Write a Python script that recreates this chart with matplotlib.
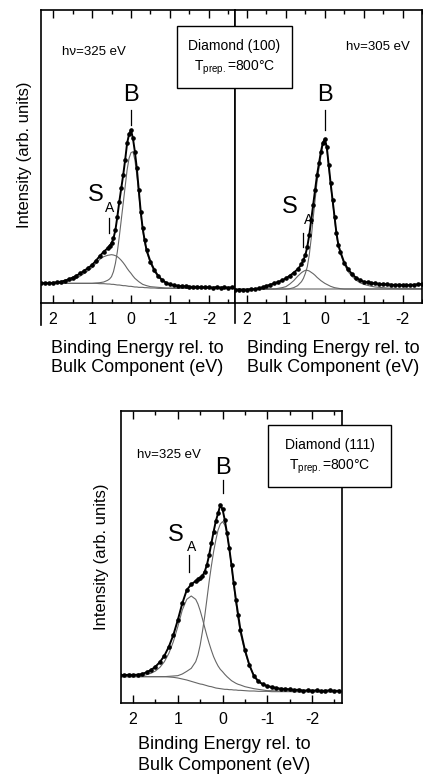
import matplotlib
matplotlib.use("Agg")
import matplotlib.pyplot as plt
from matplotlib.lines import Line2D
from matplotlib.patches import Rectangle
from matplotlib.ticker import MultipleLocator

plt.rcParams['font.family'] = ['Liberation Sans', 'DejaVu Sans']
plt.rcParams['mathtext.fontset'] = 'custom'
plt.rcParams['mathtext.rm'] = 'Liberation Sans'
plt.rcParams['axes.unicode_minus'] = False

# binding energy relative to bulk component (eV)
energy = [2.3, 2.2, 2.1, 2.0, 1.9, 1.8, 1.7, 1.6, 1.5, 1.4, 1.3, 1.2, 1.1, 1.0, 0.9, 0.8, 0.7, 0.6,
          0.55, 0.5, 0.45, 0.4, 0.35, 0.3, 0.25, 0.2, 0.15, 0.1, 0.05, 0.0, -0.05, -0.1, -0.15, -0.2,
          -0.25, -0.3, -0.35, -0.4,
          -0.5, -0.6, -0.7, -0.8, -0.9, -1.0, -1.1, -1.2, -1.3, -1.4, -1.5, -1.6, -1.7, -1.8, -1.9,
          -2.0, -2.1, -2.2, -2.3, -2.4, -2.5, -2.6]

# Diamond (100), hv=325 eV
data_a = [0.15, 0.16, 0.15, 0.17, 0.18, 0.2, 0.23, 0.27, 0.32, 0.38, 0.45, 0.53, 0.61, 0.7, 0.83, 0.97, 1.1, 1.2,
          1.28, 1.35, 1.5, 1.75, 2.15, 2.6, 3.0, 3.4, 3.85, 4.35, 4.62, 4.75, 4.5, 4.1, 3.6, 2.95,
          2.3, 1.8, 1.45, 1.15,
          0.8, 0.55, 0.37, 0.25, 0.17, 0.12, 0.09, 0.08, 0.06, 0.06, 0.05, 0.04, 0.05, 0.03, 0.04,
          0.03, 0.02, 0.04, 0.02, 0.03, 0.02, 0.03]
bulk_a = [0.15, 0.15, 0.15, 0.15, 0.15, 0.15, 0.15, 0.15, 0.15, 0.15, 0.15, 0.15, 0.15, 0.15, 0.16, 0.17, 0.19, 0.24,
          0.28, 0.35, 0.5, 0.75, 1.1, 1.55, 2.05, 2.55, 3.05, 3.55, 3.9, 4.07, 4.1, 3.85, 3.4, 2.85,
          2.25, 1.75, 1.38, 1.1,
          0.75, 0.5, 0.35, 0.23, 0.15, 0.1, 0.07, 0.05, 0.04, 0.03, 0.02, 0.02, 0.01, 0.01, 0.0,
          0.0, 0.0, 0.0, 0.0, 0.0, 0.0, 0.0]
surf_a = [0.15, 0.15, 0.16, 0.16, 0.17, 0.18, 0.2, 0.22, 0.26, 0.3, 0.37, 0.45, 0.53, 0.62, 0.75, 0.87, 0.95, 0.99,
          1.0, 1.01, 1.0, 0.98, 0.95, 0.9, 0.84, 0.77, 0.69, 0.6, 0.52, 0.45, 0.37, 0.3, 0.25, 0.2,
          0.16, 0.12, 0.1, 0.08,
          0.05, 0.04, 0.03, 0.02, 0.01, 0.01, 0.0, 0.0, 0.0, 0.0, 0.0, 0.0, 0.0, 0.0, 0.0,
          0.0, 0.0, 0.0, 0.0, 0.0, 0.0, 0.0]
back_a = [0.15, 0.15, 0.15, 0.15, 0.15, 0.15, 0.15, 0.15, 0.15, 0.15, 0.15, 0.15, 0.15, 0.15, 0.15, 0.14, 0.14, 0.13,
          0.13, 0.12, 0.12, 0.11, 0.1, 0.1, 0.09, 0.08, 0.08, 0.07, 0.06, 0.06, 0.05, 0.04, 0.04, 0.03,
          0.03, 0.03, 0.02, 0.02,
          0.01, 0.01, 0.0, 0.0, 0.0, 0.0, 0.0, 0.0, 0.0, 0.0, 0.0, 0.0, 0.0, 0.0, 0.0,
          0.0, 0.0, 0.0, 0.0, 0.0, 0.0, 0.0]

# Diamond (100), hv=305 eV
data_b = [-0.05, -0.04, -0.06, -0.05, -0.03, -0.02, 0.0, 0.03, 0.07, 0.11, 0.15, 0.19, 0.24, 0.3, 0.38, 0.47, 0.57, 0.72,
          0.85, 1.0, 1.25, 1.6, 2.05, 2.5, 2.95, 3.4, 3.75, 4.1, 4.37, 4.48, 4.25, 3.7, 3.15, 2.65,
          2.15, 1.65, 1.3, 1.1,
          0.77, 0.57, 0.43, 0.32, 0.25, 0.2, 0.18, 0.16, 0.15, 0.13, 0.12, 0.12, 0.11, 0.1, 0.11,
          0.1, 0.09, 0.1, 0.11, 0.12, 0.13, 0.13]
bulk_b = [-0.02, -0.02, -0.02, -0.02, -0.02, -0.02, -0.02, -0.02, -0.02, -0.02, -0.02, -0.02, -0.02, -0.02, -0.01, 0.02, 0.08, 0.2,
          0.3, 0.45, 0.65, 1.0, 1.5, 2.1, 2.65, 3.2, 3.6, 3.98, 4.3, 4.42, 4.2, 3.65, 3.1, 2.6,
          2.1, 1.58, 1.26, 1.05,
          0.72, 0.5, 0.36, 0.25, 0.17, 0.12, 0.09, 0.06, 0.04, 0.03, 0.02, 0.01, 0.0, 0.0, -0.01,
          -0.01, -0.01, -0.01, -0.01, -0.01, -0.01, -0.01]
surf_b = [-0.02, -0.02, -0.02, -0.02, -0.02, -0.02, -0.02, -0.02, -0.02, -0.02, -0.02, 0.0, 0.02, 0.05, 0.13, 0.23, 0.36, 0.47,
          0.51, 0.54, 0.54, 0.52, 0.48, 0.44, 0.39, 0.33, 0.28, 0.23, 0.19, 0.15, 0.12, 0.09, 0.06, 0.04,
          0.02, 0.01, 0.0, -0.01,
          -0.02, -0.02, -0.02, -0.02, -0.02, -0.02, -0.02, -0.02, -0.02, -0.02, -0.02, -0.02, -0.02, -0.02, -0.02,
          -0.02, -0.02, -0.02, -0.02, -0.02, -0.02, -0.02]
back_b = [-0.03, -0.03, -0.03, -0.03, -0.03, -0.03, -0.03, -0.03, -0.03, -0.02, -0.02, -0.02, -0.02, -0.02, -0.02, -0.02, -0.02, -0.02,
          -0.02, -0.02, -0.02, -0.02, -0.02, -0.02, -0.02, -0.02, -0.02, -0.02, -0.02, -0.02, -0.02, -0.02, -0.02, -0.02,
          -0.02, -0.02, -0.02, -0.02,
          -0.02, -0.02, -0.02, -0.02, -0.02, -0.02, -0.02, -0.02, -0.02, -0.02, -0.02, -0.02, -0.02, -0.02, -0.02,
          -0.02, -0.02, -0.02, -0.02, -0.02, -0.02, -0.02]

# Diamond (111), hv=325 eV
data_c = [0.45, 0.44, 0.46, 0.45, 0.46, 0.48, 0.53, 0.6, 0.7, 0.84, 1.03, 1.3, 1.65, 2.1, 2.6, 3.0, 3.17, 3.27,
          3.32, 3.36, 3.42, 3.55, 3.75, 4.05, 4.4, 4.75, 5.07, 5.3, 5.55, 5.42, 5.1, 4.7, 4.25, 3.75,
          3.2, 2.7, 2.25, 1.8,
          1.2, 0.75, 0.42, 0.26, 0.17, 0.12, 0.09, 0.06, 0.04, 0.03, 0.02, 0.0, 0.01, -0.02, -0.01,
          -0.02, -0.01, -0.03, -0.02, -0.01, -0.03, -0.02]
bulk_c = [0.4, 0.4, 0.4, 0.4, 0.4, 0.4, 0.4, 0.4, 0.4, 0.4, 0.4, 0.41, 0.42, 0.43, 0.48, 0.56, 0.65, 0.85,
          1.05, 1.35, 1.75, 2.2, 2.72, 3.25, 3.72, 4.15, 4.5, 4.8, 4.98, 5.05, 4.95, 4.7, 4.25, 3.7,
          3.15, 2.6, 2.12, 1.7,
          1.15, 0.72, 0.45, 0.28, 0.17, 0.1, 0.06, 0.03, 0.01, 0.0, -0.02, -0.03, -0.03, -0.04, -0.04,
          -0.05, -0.05, -0.05, -0.05, -0.05, -0.05, -0.05]
surf_c = [0.4, 0.4, 0.41, 0.41, 0.42, 0.43, 0.46, 0.5, 0.57, 0.68, 0.85, 1.1, 1.45, 1.9, 2.4, 2.72, 2.82, 2.72,
          2.58, 2.38, 2.14, 1.88, 1.63, 1.4, 1.19, 1.0, 0.85, 0.72, 0.62, 0.55, 0.47, 0.4, 0.34, 0.28,
          0.24, 0.2, 0.17, 0.15,
          0.1, 0.07, 0.04, 0.02, 0.0, -0.02, -0.02, -0.03, -0.03, -0.04, -0.04, -0.05, -0.05, -0.05, -0.05,
          -0.05, -0.05, -0.05, -0.05, -0.05, -0.05, -0.05]
back_c = [0.4, 0.4, 0.4, 0.4, 0.4, 0.4, 0.4, 0.4, 0.4, 0.4, 0.4, 0.39, 0.38, 0.36, 0.33, 0.3, 0.26, 0.22,
          0.2, 0.18, 0.17, 0.15, 0.13, 0.11, 0.1, 0.08, 0.06, 0.05, 0.04, 0.03, 0.02, 0.02, 0.01, 0.01,
          0.0, 0.0, -0.01, -0.01,
          -0.02, -0.03, -0.03, -0.04, -0.04, -0.04, -0.05, -0.05, -0.05, -0.05, -0.05, -0.05, -0.05, -0.05, -0.05,
          -0.05, -0.05, -0.05, -0.05, -0.05, -0.05, -0.05]

tick_values = [2, 1, 0, -1, -2]
tick_labels = ['2', '1', '0', '-1', '-2']
xlabel = "Binding Energy rel. to\nBulk Component (eV)"

W, H = 423, 777
fig = plt.figure(figsize=(W / 100, H / 100), dpi=100)


def fpos(x, y):
    # pixel position in the picture -> figure fraction
    return x / W, 1 - y / H


def style(ax, xlim, ylim):
    ax.set_xlim(xlim)
    ax.set_ylim(ylim)
    ax.set_xticks(tick_values)
    ax.set_xticklabels(tick_labels)
    ax.xaxis.set_minor_locator(MultipleLocator(0.5))
    ax.tick_params(axis='x', which='both', direction='in', top=True, bottom=True,
                   labelsize=11.5, pad=6.5, width=1)
    ax.tick_params(axis='x', which='major', length=5.5)
    ax.tick_params(axis='x', which='minor', length=3)
    ax.set_yticks([])
    for s in ax.spines.values():
        s.set_linewidth(1.2)


def draw(ax, data, bulk, surf, back):
    ax.plot(energy, back, color='0.4', lw=0.8)
    ax.plot(energy, surf, color='0.4', lw=0.8)
    ax.plot(energy, bulk, color='0.4', lw=0.8)
    ax.plot(energy, data, color='black', lw=1.4)
    ax.plot(energy, data, 'o', color='black', ms=2.3)


def labels(ax, b_y, b_tick, s_pos, a_pos, a_tick):
    ax.text(0, b_y, 'B', ha='center', va='center', fontsize=17)
    ax.plot([0, 0], b_tick, color='black', lw=0.9)
    ax.text(s_pos[0], s_pos[1], 'S', ha='center', va='center', fontsize=17)
    ax.text(a_pos[0], a_pos[1], 'A', ha='center', va='center', fontsize=10)
    ax.plot([a_tick[0], a_tick[0]], a_tick[1:], color='black', lw=0.9)


def box(x0, y0, x1, y1, name):
    l, b = fpos(x0, y1)
    fig.add_artist(Rectangle((l, b), (x1 - x0) / W, (y1 - y0) / H, transform=fig.transFigure,
                             facecolor='white', edgecolor='black', lw=1.0, zorder=5))
    cx = (x0 + x1) / 2
    fig.text(*fpos(cx, y0 + 0.32 * (y1 - y0)), name, ha='center', va='center', fontsize=10, zorder=6)
    fig.text(*fpos(cx, y0 + 0.68 * (y1 - y0)), r'T$_{\mathregular{prep.}}$=800°C',
             ha='center', va='center', fontsize=10, zorder=6)


l, b = fpos(41, 303)
ax1 = fig.add_axes([l, b, 194 / W, 293 / H])
l, b = fpos(235, 303)
ax2 = fig.add_axes([l, b, 187 / W, 293 / H])
l, b = fpos(121, 703)
ax3 = fig.add_axes([l, b, 221 / W, 292 / H])

style(ax1, (2.31, -2.67), (-0.44, 8.35))
style(ax2, (2.31, -2.5), (-0.44, 8.35))
style(ax3, (2.27, -2.67), (-0.39, 8.37))
ax2.spines['left'].set_visible(False)

draw(ax1, data_a, bulk_a, surf_a, back_a)
draw(ax2, data_b, bulk_b, surf_b, back_b)
draw(ax3, data_c, bulk_c, surf_c, back_c)

labels(ax1, 5.8, [5.35, 4.9], (0.9, 2.8), (0.54, 2.41), (0.56, 2.12, 1.66))
labels(ax2, 5.8, [5.35, 4.75], (0.9, 2.44), (0.42, 2.05), (0.56, 1.66, 1.24))
labels(ax3, 6.66, [6.3, 5.9], (1.05, 4.65), (0.7, 4.3), (0.74, 4.05, 3.55))

ax1.text(1.77, 7.1, 'hν=325 eV', ha='left', va='center', fontsize=9.5)
ax2.text(-0.54, 7.24, 'hν=305 eV', ha='left', va='center', fontsize=9.5)
ax3.text(1.92, 7.05, 'hν=325 eV', ha='left', va='center', fontsize=9.5)

box(177, 26, 292, 88, 'Diamond (100)')
box(268, 425, 391, 487, 'Diamond (111)')

# spine lines running down past the axes, as in the scan
for x, y1 in [(41, 325), (235, 323)]:
    fig.add_artist(Line2D([x / W, x / W], [1 - 303 / H, 1 - y1 / H], transform=fig.transFigure,
                          color='black', lw=1.2))
fig.add_artist(Line2D([235 / W, 235 / W], [1 - 10 / H, 1 - 303 / H], transform=fig.transFigure,
                      color='black', lw=1.2, zorder=4))

fig.text(*fpos(25, 155), 'Intensity (arb. units)', rotation=90, ha='center', va='center', fontsize=12)
fig.text(*fpos(101, 557), 'Intensity (arb. units)', rotation=90, ha='center', va='center', fontsize=12)

fig.text(*fpos(137, 358), xlabel, ha='center', va='center', fontsize=13, linespacing=1.15)
fig.text(*fpos(333, 358), xlabel, ha='center', va='center', fontsize=13, linespacing=1.15)
fig.text(*fpos(224, 755), xlabel, ha='center', va='center', fontsize=13, linespacing=1.3)

fig.savefig('out.png', dpi=100)
